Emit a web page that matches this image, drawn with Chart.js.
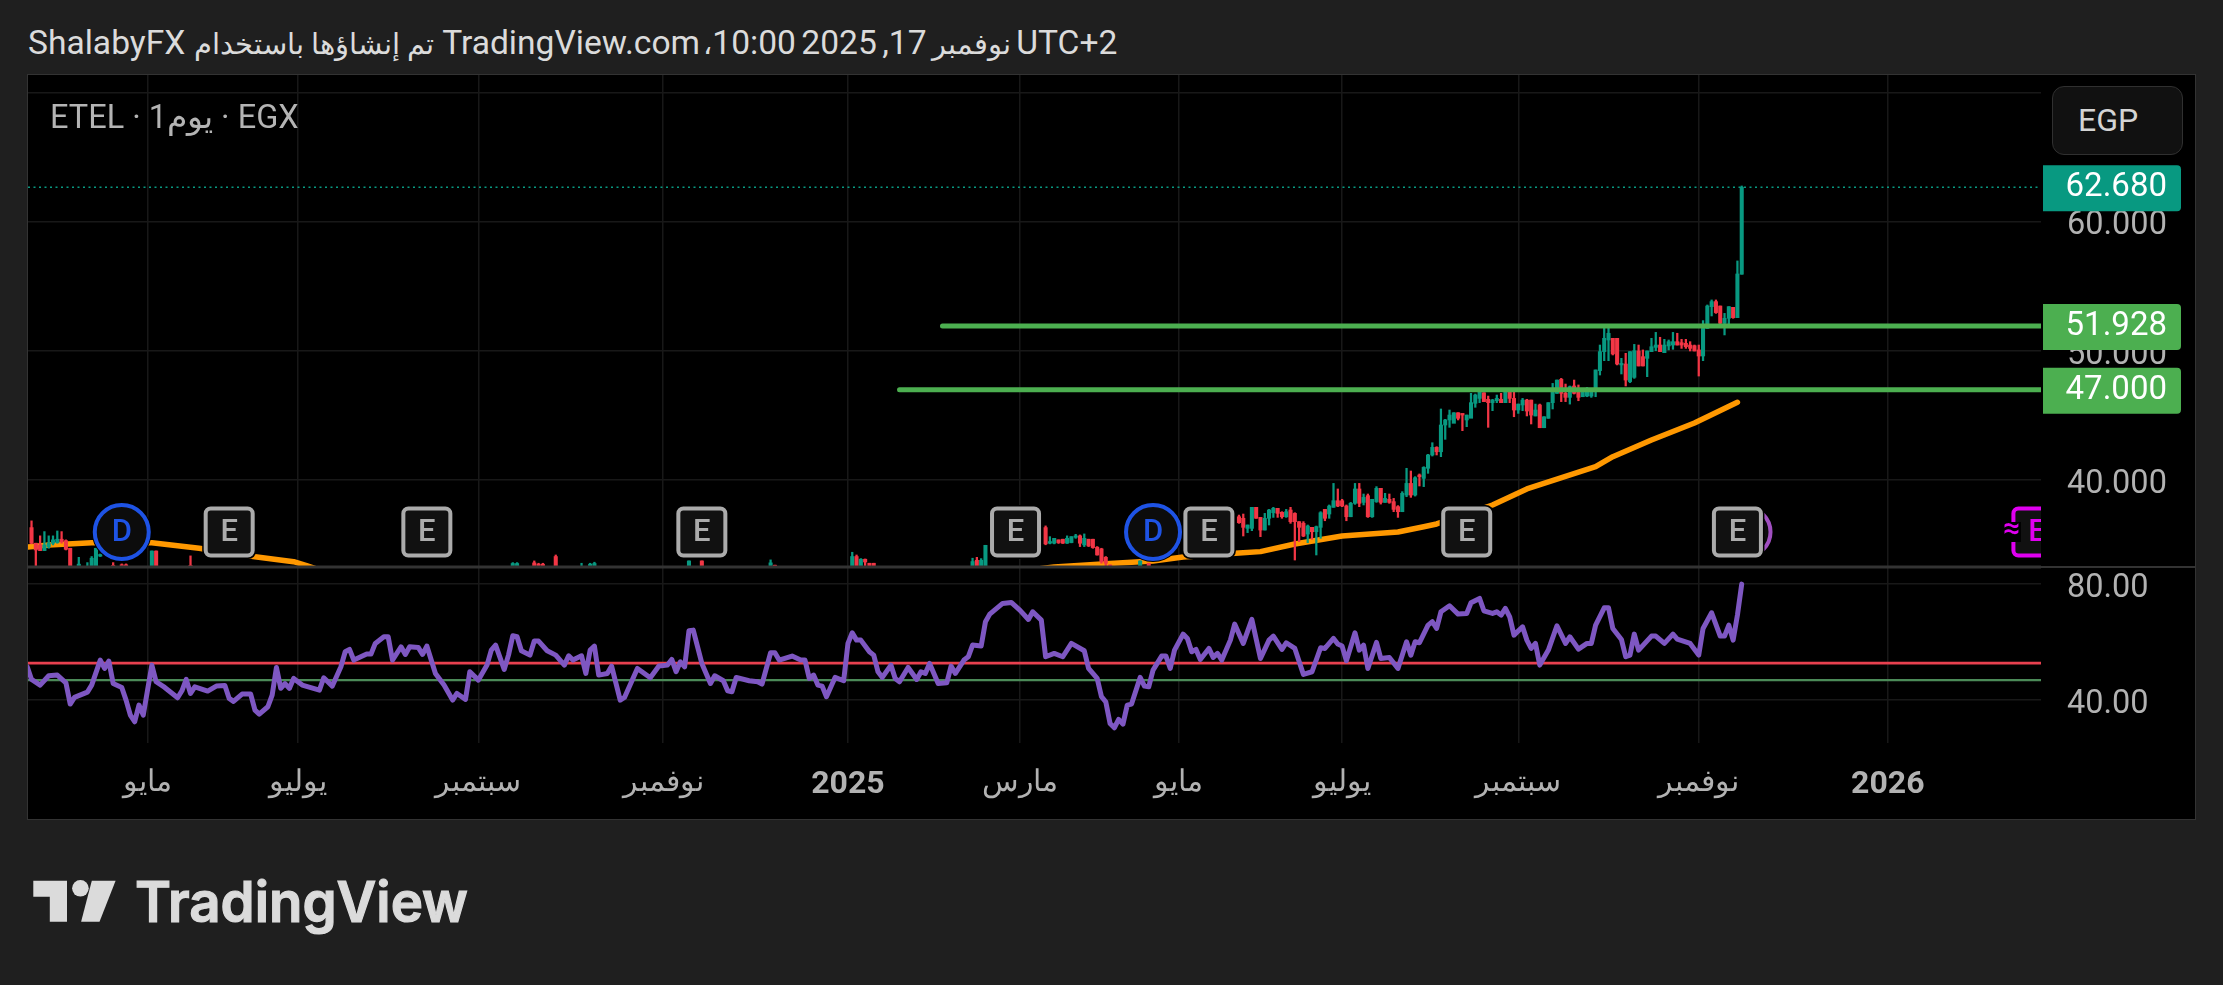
<!DOCTYPE html>
<html lang="ar">
<head>
<meta charset="utf-8">
<title>ETEL</title>
<style>
html,body{margin:0;padding:0;width:2223px;height:985px;overflow:hidden;background:#1f1f1f;font-family:Roboto,sans-serif}
#frame{position:absolute;left:27px;top:74px;width:2167px;height:744px;border:1px solid #333}
canvas{position:absolute;left:28px;top:75px;background:#000}
#title{position:absolute;left:28px;top:21px;font-size:33.6px;line-height:44px;color:#dbdbdb;white-space:nowrap;direction:rtl}
#title .ar{font-size:28.5px}
#title .tight{word-spacing:-3px}
#title .comma{margin-left:-5px}
#legend{position:absolute;left:50px;top:97px;font-size:32.5px;line-height:40px;color:#b4b4b4;white-space:nowrap;direction:ltr}
#unit{position:absolute;left:2052px;top:86px;width:131px;height:69px;box-sizing:border-box;border:1.5px solid #303030;border-radius:12px;background:#111;color:#d4d4d4;font-size:32px;line-height:67px;padding-left:25px}
#logo{position:absolute;left:0;top:860px}
</style>
</head>
<body>
<div id="title"><span class="tight">UTC+2 <span class="ar">نوفمبر</span> 17, 2025 10:00</span><span class="ar comma">،</span> TradingView.com <span class="ar">تم إنشاؤها باستخدام</span> ShalabyFX</div>
<div id="frame"></div>
<canvas id="c" width="2167" height="744"></canvas>
<div id="legend">ETEL · 1يوم · EGX</div>
<div id="unit">EGP</div>
<svg id="logo" width="520" height="90" viewBox="0 860 520 90">
  <path fill="#dbdbdb" d="M33.3 880.7H67V921.7H49.8V896.7H33.3Z"/>
  <circle fill="#dbdbdb" cx="80.4" cy="888.3" r="8.3"/>
  <path fill="#dbdbdb" d="M91.8 880.7H115.6L99.5 921.7H81.1Z"/>
  <text x="135" y="921.7" font-family="Inter" font-weight="600" font-size="56" fill="#dbdbdb" stroke="#dbdbdb" stroke-width="1.2" textLength="333" lengthAdjust="spacingAndGlyphs">TradingView</text>
</svg>
<script src="https://cdn.jsdelivr.net/npm/chart.js@4/dist/chart.umd.js"></script>
<script>
// ---- time axis (bar numbers of the month starts, labels as printed)
const monthTickBars = [31, 66, 108, 151, 194, 234, 271, 309, 350, 392, 436];
const monthTickLabels = ['مايو', 'يوليو', 'سبتمبر', 'نوفمبر', '2025', 'مارس', 'مايو', 'يوليو', 'سبتمبر', 'نوفمبر', '2026'];
const yearLabels = ['2025', '2026'];
const firstVisibleBar = 3.18, lastVisibleBar = 471.65;

// ---- value axes
const priceTicks = [40, 50, 60, 70];
const hiddenPriceTicks = [70];
const rsiTicks = [40, 80];
const priceMin = 33.28, priceMax = 71.36;
const rsiMin = 25.2, rsiMax = 85.8;

// ---- candles
const candleBars = [4,5,6,7,8,9,10,11,12,13,15,17,18,19,20,23,25,26,32,33,41,116,117,121,122,123,126,132,134,135,157,160,176,177,195,196,197,198,199,200,223,224,225,226,
240,241,242,243,244,245,246,247,248,249,250,251,252,253,254,255,262,264,
285,286,287,288,289,290,291,292,293,294,295,296,297,298,299,300,301,302,303,304,305,306,307,308,309,310,311,312,313,314,315,316,317,318,319,320,321,322,323,324,325,326,327,328,329,330,331,332,333,334,335,336,337,338,339,
340,341,342,343,344,345,346,347,348,349,350,351,352,353,354,355,356,357,358,359,360,361,362,363,364,365,366,367,368,
369,370,371,372,373,374,375,376,377,378,379,380,381,382,383,384,385,386,387,388,389,390,391,392,393,394,395,396,397,398,399,400,401,402];
const candleOpen = [36.33,35.12,34.99,34.55,34.86,35.12,35.17,35.43,35.32,34.73,33,33,33,33,34.12,33.4,33.45,33.45,33,34.52,33.4,33,33,33.6,33.5,33.5,34.09,33,33,33,33,33.75,33,33.42,33,34.09,33,33.88,33.57,33.57,33,33.8,33,33,
36.33,35.12,35.12,35.38,35.43,35.12,35.17,35.58,35.69,34.99,35.43,35.43,34.81,34.68,34.03,33.44,33,33.57,
37.17,37.05,36.27,36.27,37.9,37.12,36.14,37.05,37.48,37.82,37.51,37.17,37.69,37.43,36.79,36.66,35.83,36.35,36.01,36.35,37.74,37.38,37.9,38.41,38.41,38,37.17,38.21,39.32,38.28,38.8,37.17,38.34,39.37,38.28,38.52,38.34,37.95,37.56,38.85,39.75,38.85,40.4,40.14,40.92,41.95,42.54,42.2,44.27,44.66,44.4,45.22,45.17,44.66,44.79,
45.95,46.33,46.77,46.26,46,46.15,46.26,46,46.93,46.33,45.43,45.82,46.2,46.2,44.97,45.82,44.06,44.79,46,46.72,47.8,46.72,46.41,47.29,46.85,46.46,46.51,46.51,46.85,
48.48,49.95,50.85,50.98,50.98,48.92,48.99,47.63,47.96,50,49.56,49.43,49.95,50.28,50.46,49.87,50.39,50.46,50.72,50.64,50.59,50.46,50.41,50.08,49.61,51.75,53.43,53.82,53.48,52.14,52.53,53.38,52.58,55.94];
const candleHigh = [36.85,35.12,35.69,36.02,35.69,35.69,36.07,36.02,35.38,34.73,34.03,33.62,34.09,34.73,34.29,33.62,33.52,33.52,34.52,34.52,34.14,33.62,33.62,33.75,33.57,33.57,34.21,33.57,33.57,33.65,33.75,33.75,33.83,33.42,34.42,34.21,33.93,33.9,33.57,33.57,33.96,34.03,33.93,34.96,
36.46,35.63,35.5,35.38,35.43,35.69,35.63,35.81,35.76,35.84,35.43,35.43,34.86,34.73,34.09,33.44,33.75,33.57,
37.3,37.38,36.53,37.9,37.9,37.12,37.43,37.74,37.9,37.82,37.56,37.74,37.9,37.48,36.79,36.79,36.53,36.35,36.45,37.56,37.74,38.08,39.75,39.32,38.52,38.08,38.28,39.75,39.75,38.93,38.93,38.52,39.5,39.37,38.98,38.93,38.59,38.03,39.11,40.92,40.71,40.27,40.48,41.04,42,42.9,42.59,45.51,44.71,45.43,45.22,45.22,45.04,45.04,46.72,
46.67,46.98,46.77,46.51,46.26,46.59,46.72,47.11,46.98,46.98,45.89,46.33,46.26,46.2,45.89,45.89,44.91,46,47.49,47.75,47.88,47.44,47.29,47.75,47.37,47.03,47.18,47.03,48.53,
50.46,51.93,52.01,50.98,50.98,49.43,49.82,49.95,50.51,50.46,50.08,50,50.98,51.44,51.06,50.9,50.85,51.44,51.37,50.9,50.9,50.72,50.46,50.46,52.35,53.56,53.95,53.95,53.48,52.91,53.43,53.38,56.97,62.77];
const candleLow = [35.07,33,34.55,34.55,34.73,34.99,35.12,35.12,34.6,33,33,33,33,33,34.09,33,33,33,33,33,33,33,33,33,33,33,33,33,33,33,33,33,33,33,33,33,33,33,33,33,33,33,33,33,
35,35.07,35.07,35.1,35.1,35.1,35.15,35.5,34.86,34.86,34.86,34.73,34.2,33.57,33,33,33,33,
36.66,35.68,35.94,36.09,37.05,35.63,36.14,36.53,37.12,37.12,37.05,37.12,36.66,33.82,35.24,35.63,35.16,35.42,34.21,35.5,36.86,37.05,37.9,37.95,37.95,36.86,37.17,38.13,37.95,38.08,37.12,37.12,38.28,38.15,38.28,38.21,37.56,37.12,37.56,38.72,38.67,38.77,39.55,39.5,40.53,41.87,41.95,41.82,43.16,44.09,44.71,44.66,43.83,44.14,44.97,
45.64,46,46.08,44.09,45.38,46,46,46,46,44.91,45.17,45.38,44.97,44.35,44.97,44.06,44.06,44.79,45.51,46.72,46.08,46.08,45.89,46.67,46.15,46.46,46.46,46.41,46.46,
48.14,49.25,49.25,49.69,48.92,48.22,47.29,47.55,47.88,48.84,48.84,48.01,49.95,50.02,49.95,49.87,50.08,50.13,50.46,50.2,50.2,50,50,48.06,49.25,51.75,52.71,52.91,52.09,51.24,51.93,52.53,52.58,55.94];
const candleClose = [35.12,34.6,34.55,34.99,35.12,35.38,35.43,35.25,34.65,33,33.5,33.3,33.96,34.73,34.25,33,33,33,34.52,33,33.2,33.55,33.55,33.35,33.3,33.3,33,33.3,33.5,33.55,33.75,33,33.6,33.3,34.09,33,33.88,33.67,33,33,33.7,33.3,33.8,34.96,
35.07,35.25,35.5,35.17,35.12,35.5,35.63,35.69,35.12,35.5,34.91,34.78,34.21,33.7,33.57,33,33.75,33,
36.71,36.35,36.53,37.9,37.05,36.14,37.05,37.69,37.82,37.43,37.17,37.56,36.79,36.79,36.35,35.68,36.45,36.01,36.4,37.48,37.05,38,38.41,38,38,37.17,38.21,39.32,38.21,38.67,37.17,38.52,39.37,38.28,38.59,38.28,37.74,37.56,38.98,39.75,38.85,40.19,40.27,40.99,41.95,42.54,42.2,44.27,44.66,45.04,45.22,44.79,45.04,45.04,46,
46.59,46.9,46.08,46,46.2,46.33,46,46.98,46.33,45.43,45.89,46.2,45.35,45.04,45.43,44.06,44.91,46,46.93,47.75,46.72,46.41,47.24,46.72,46.41,46.85,47.03,46.98,48.53,
49.95,50.98,51.37,49.77,48.99,49.04,47.75,49.95,50.02,48.84,48.84,50,50.33,50.46,49.95,50.46,50.72,50.72,50.46,50.46,50.33,50.2,50,49.61,51.75,53.48,53.82,52.97,52.14,52.53,53.43,52.58,55.96,62.68];

// ---- moving average (read where it is visible)
const maBars = [3,8,18,32,43,56,65,68,71,235,242,255,265,272,285,290,298,309,322,328,331,344,352,368,372,381,391,401];
const maValues = [34.83,34.98,35.16,35.16,34.73,34.08,33.69,33.39,33.05,33.0,33.28,33.55,33.75,34.06,34.37,34.47,35.06,35.68,35.99,36.4,36.61,38.08,39.32,41.04,41.82,43.11,44.43,46.03];

// ---- RSI
const rsiBars = [3,4,6,8,10,12,13,14,17,18,20,21,22,23,25,26,27,28,29,30,32,33,35,38,39,40,41,42,45,47,49,50,51,53,55,56,57,59,60,61,62,63,64,65,67,71,72,74,76,77,78,79,82,83,84,86,87,88,90,91,92,94,95,96,98,100,102,103,105,106,108,110,111,112,114,115,116,117,118,120,121,122,124,126,128,129,130,132,133,134,135,136,138,139,141,142,145,148,150,152,153,154,155,156,157,158,160,162,163,165,166,167,168,171,
173,174,176,177,178,181,183,184,185,186,187,188,189,191,193,194,195,196,197,199,200,201,202,204,205,206,208,210,211,212,213,215,217,218,219,221,222,223,225,226,227,230,232,234,236,237,239,240,242,244,246,249,250,252,253,254,255,256,257,258,259,260,262,263,264,265,267,268,269,270,272,273,274,275,276,278,279,280,281,283,284,286,288,290,292,293,295,296,298,300,302,304,305,307,308,309,310,312,313,314,315,317,318,320,322,324,325,326,327,329,330,331,332,334,336,338,339,341,342,344,345,346,
347,348,349,351,352,353,354,355,357,359,361,362,364,366,367,368,370,371,372,374,375,376,377,378,381,382,384,386,387,390,392,393,395,397,398,399,400,401,402];
const rsiValues = [51.39,47.02,45.07,48.29,48.52,45.87,38.52,40.82,42.65,45.07,53.69,50.81,53.34,45.64,44.26,39.9,34.72,32.42,38.17,34.72,51.96,46.22,44.26,40.7,43.11,47.02,42.19,44.49,43,44.72,44.95,40.47,39.44,41.96,41.96,36.45,35.07,37.6,41.62,51.16,44,45.6,43.92,47.37,45.07,43.35,47.6,44.72,51.39,56.56,57.37,53.69,55.76,55.76,59.44,61.73,61.73,53.69,58.29,55.64,58.29,58.06,55.64,58.52,49.09,45.07,39.9,42.19,40.13,49.67,46.79,51.96,57.14,58.86,50.47,55.41,62.08,61.73,56.91,55.41,60.24,60.24,56.91,55.41,51.96,55.18,53.69,55.18,49.09,57.14,58.52,48.52,49.09,51.62,39.9,40.82,50.81,47.6,51.62,51.96,53.92,49.67,53.11,51.39,63.8,64.03,52.54,45.64,48.29,46.56,43.11,42.77,47.71,46.56,
46.22,45.41,56.22,56.22,53.69,55.07,53.69,53.69,47.37,48.52,45.07,44.72,41.05,47.71,46.56,59.44,63.11,60.58,60.58,56.56,55.41,49.67,47.71,51.96,47.37,46.22,51.16,47.02,49.67,49.09,52.54,45.64,45.87,51.62,49.09,53.69,54.84,58.86,58.52,66.91,69.55,73.23,73.57,70.93,67.71,70.35,67.48,54.84,55.99,54.84,59.44,56.91,50.81,47.37,41.05,39.32,31.85,30.36,33.23,31.62,38.17,38.52,47.71,44.72,44.49,50.24,55.07,55.07,50.81,57.14,62.65,61.16,56.56,57.37,53.92,57.71,54.61,55.99,53.69,60.58,66.1,59.44,67.71,54.26,60.58,61.96,57.37,59.67,57.71,48.75,49.67,57.94,57.71,61.16,59.21,58.52,53.46,63.11,57.14,58.86,50.81,59.78,54.26,54.61,50.81,60.01,55.41,60.01,59.67,65.76,66.91,64.61,70.35,72.42,69.55,69.78,73.46,74.95,70.7,69.78,70.35,69.2,
71.5,68.63,62.31,65.18,60.58,57.71,59.44,51.96,57.14,65.53,59.44,61.73,57.48,59.44,59.44,65.76,71.73,71.73,64.61,60.81,54.84,55.41,62.65,57.14,61.96,61.96,59.44,62.65,60.93,59.44,55.41,64.61,70.01,61.96,61.96,65.76,60.58,69.2,79.9];
const rsiUpperLevel = 52.66, rsiLowerLevel = 46.8;

// ---- price levels and tags
const lastPrice = 62.68;
const levelPrices = [51.928, 47];
const levelStartBars = [216, 206];

// ---- event badges
const eventBadgeLevel = 35.99;
const dividendBars = [25, 265];
const earningsBars = [50, 96, 160, 233, 278, 338, 401];
const purpleBars = [403];
const futureEarningsBars = [470.7];

const GREEN = '#089981', RED = '#f23645', GRID = '#181818', TICK = '#b2b2b2', LEVEL = '#4caf50';

const wicks = candleBars.map((b, i) => ({x: b, y: [candleLow[i], candleHigh[i]]}));
const bodies = candleBars.map((b, i) => ({x: b, y: [candleOpen[i], candleClose[i]]}));
const upDown = ctx => candleClose[ctx.dataIndex] >= candleOpen[ctx.dataIndex] ? GREEN : RED;
const pair = (xs, ys) => xs.map((x, i) => ({x, y: ys[i]}));
const flat = (from, to, v) => [{x: from, y: v}, {x: to, y: v}];
const lineBase = {type: 'line', pointRadius: 0, pointHoverRadius: 0, tension: 0, borderJoinStyle: 'round', fill: false};
const noPadding = s => { s.paddingTop = s.paddingBottom = s.paddingLeft = s.paddingRight = 0; };

const datasets = [
  {...lineBase, label: 'MA', data: pair(maBars, maValues), borderColor: '#ff9800', borderWidth: 5.5, borderCapStyle: 'round', yAxisID: 'y', order: 6},
  {type: 'bar', label: 'wick', data: wicks, backgroundColor: upDown, barThickness: 1.6, grouped: false, borderWidth: 0, yAxisID: 'y', order: 5},
  {type: 'bar', label: 'body', data: bodies, backgroundColor: upDown, barThickness: 3.4, grouped: false, borderWidth: 0, yAxisID: 'y', order: 4},
  {...lineBase, label: 'last', data: flat(firstVisibleBar, lastVisibleBar, lastPrice), borderColor: GREEN, borderWidth: 1.5, borderDash: [2, 3.5], yAxisID: 'y', order: 3},
  {...lineBase, label: 'L1', data: flat(levelStartBars[0], lastVisibleBar + 5, levelPrices[0]), borderColor: LEVEL, borderWidth: 5, borderCapStyle: 'round', yAxisID: 'y', order: 2},
  {...lineBase, label: 'L2', data: flat(levelStartBars[1], lastVisibleBar + 5, levelPrices[1]), borderColor: LEVEL, borderWidth: 5, borderCapStyle: 'round', yAxisID: 'y', order: 2},
  {...lineBase, label: 'RSI upper', data: flat(firstVisibleBar, lastVisibleBar, rsiUpperLevel), borderColor: '#e8404f', borderWidth: 2.6, yAxisID: 'rsi', order: 8},
  {...lineBase, label: 'RSI lower', data: flat(firstVisibleBar, lastVisibleBar, rsiLowerLevel), borderColor: '#4b8a58', borderWidth: 2.2, yAxisID: 'rsi', order: 8},
  {...lineBase, label: 'RSI', data: pair(rsiBars, rsiValues), borderColor: '#7e57c2', borderWidth: 5, borderCapStyle: 'round', yAxisID: 'rsi', order: 1}
];

function roundRectPath(g, x, y, w, h, r) {
  g.beginPath();
  g.roundRect(x, y, w, h, r);
}

const labelDrop = {y: 4.5, rsi: 5.5};

const overlay = {
  id: 'overlay',
  beforeDraw(chart) {
    // the value labels sit a little below their grid lines
    Object.keys(labelDrop).forEach(id => {
      chart.scales[id].getLabelItems().forEach(item => {
        if (!item.lowered) { item.options.translation[1] += labelDrop[id]; item.lowered = true; }
      });
    });
  },
  afterDatasetsDraw(chart) {
    const g = chart.ctx, x = chart.scales.x, y = chart.scales.y;
    const cy = y.getPixelForValue(eventBadgeLevel);
    // pane separator
    g.save();
    g.fillStyle = '#333';
    g.fillRect(0, y.bottom - 1.5, x.right, 3);
    g.fillRect(x.right, y.bottom - 1, chart.width - x.right, 2);
    g.restore();
    // badges, clipped to the plot
    g.save();
    g.beginPath();
    g.rect(0, y.top, x.right, y.bottom - y.top - 2);
    g.clip();
    g.textAlign = 'center';
    g.textBaseline = 'middle';
    purpleBars.forEach(b => {
      const cx = x.getPixelForValue(b);
      g.beginPath(); g.arc(cx, cy, 24.5, 0, Math.PI * 2);
      g.fillStyle = '#0d0d0d'; g.fill();
      g.strokeStyle = '#a04fc0'; g.lineWidth = 4; g.stroke();
    });
    earningsBars.forEach(b => {
      const cx = x.getPixelForValue(b);
      roundRectPath(g, cx - 27, cy - 27, 54, 54, 8); g.fillStyle = '#000'; g.fill();
      roundRectPath(g, cx - 23.5, cy - 23.5, 47, 47, 5);
      g.fillStyle = '#111'; g.fill();
      g.strokeStyle = '#ababab'; g.lineWidth = 4; g.stroke();
      g.fillStyle = '#ababab'; g.font = '500 31px Roboto';
      g.fillText('E', cx, cy + 1.5);
    });
    dividendBars.forEach(b => {
      const cx = x.getPixelForValue(b);
      g.beginPath(); g.arc(cx, cy, 30, 0, Math.PI * 2); g.fillStyle = '#000'; g.fill();
      g.beginPath(); g.arc(cx, cy, 27, 0, Math.PI * 2);
      g.fillStyle = '#0c0c0c'; g.fill();
      g.strokeStyle = '#1e53e5'; g.lineWidth = 4; g.stroke();
      g.fillStyle = '#1e53e5'; g.font = '500 31px Roboto';
      g.fillText('D', cx, cy + 1.5);
    });
    futureEarningsBars.forEach(b => {
      const cx = x.getPixelForValue(b);
      roundRectPath(g, cx - 23.5, cy - 23.5, 47, 47, 5);
      g.fillStyle = '#111'; g.fill();
      g.strokeStyle = '#e000f0'; g.lineWidth = 4; g.stroke();
      g.fillStyle = '#e000f0'; g.font = '500 31px Roboto';
      g.fillText('E', cx, cy + 1.5);
      g.fillStyle = '#000';
      g.fillRect(cx - 36, cy - 10, 20, 20);
      g.fillStyle = '#e000f0'; g.font = '500 30px Roboto';
      g.fillText('≈', cx - 25, cy - 1);
    });
    g.restore();
    // axis tags
    const tags = [[lastPrice, GREEN], [levelPrices[0], LEVEL], [levelPrices[1], LEVEL]];
    g.save();
    g.textAlign = 'right';
    g.textBaseline = 'middle';
    g.font = '33px Roboto';
    tags.forEach(([v, col]) => {
      const py = y.getPixelForValue(v);
      roundRectPath(g, x.right + 2, py - 22, 138, 46, [0, 4, 4, 0]);
      g.fillStyle = col; g.fill();
      g.fillStyle = '#fff';
      g.fillText(v.toFixed(3), x.right + 126, py + 1);
    });
    g.restore();
  }
};

new Chart(document.getElementById('c'), {
  type: 'bar',
  data: {datasets},
  options: {
    responsive: false,
    animation: false,
    devicePixelRatio: 1,
    layout: {padding: 0, autoPadding: false},
    plugins: {legend: {display: false}, tooltip: {enabled: false}, title: {display: false}},
    scales: {
      x: {
        type: 'linear', position: 'bottom', offset: false,
        min: firstVisibleBar, max: lastVisibleBar,
        afterBuildTicks: s => { s.ticks = monthTickBars.map(value => ({value})); },
        afterFit: s => { s.height = 76.3; noPadding(s); },
        grid: {color: GRID, lineWidth: 1.5, drawTicks: false, offset: false},
        border: {display: false},
        ticks: {
          autoSkip: false, maxRotation: 0, padding: 23,
          color: TICK,
          font: ctx => yearLabels.includes(monthTickLabels[ctx.index]) ? {family: 'Roboto', size: 32, weight: 'bold'} : {family: 'Roboto', size: 30},
          callback: (v, i) => monthTickLabels[i]
        }
      },
      y: {
        type: 'linear', position: 'right', stack: 'panes', stackWeight: 492,
        min: priceMin, max: priceMax,
        afterBuildTicks: s => { s.ticks = priceTicks.map(value => ({value})); },
        afterFit: s => { s.width = 154; noPadding(s); },
        grid: {color: GRID, lineWidth: 1.5, drawTicks: false},
        border: {display: false},
        ticks: {
          padding: 26, color: TICK, font: {family: 'Roboto', size: 32.5},
          callback: v => hiddenPriceTicks.includes(v) ? '' : v.toFixed(3)
        }
      },
      rsi: {
        type: 'linear', position: 'right', stack: 'panes', stackWeight: 175.7,
        min: rsiMin, max: rsiMax,
        afterBuildTicks: s => { s.ticks = rsiTicks.map(value => ({value})); },
        afterFit: s => { s.width = 154; noPadding(s); },
        grid: {color: GRID, lineWidth: 1.5, drawTicks: false},
        border: {display: false},
        ticks: {
          padding: 26, color: TICK, font: {family: 'Roboto', size: 32.5},
          callback: v => v.toFixed(2)
        }
      }
    }
  },
  plugins: [overlay]
});
</script>
</body>
</html>
